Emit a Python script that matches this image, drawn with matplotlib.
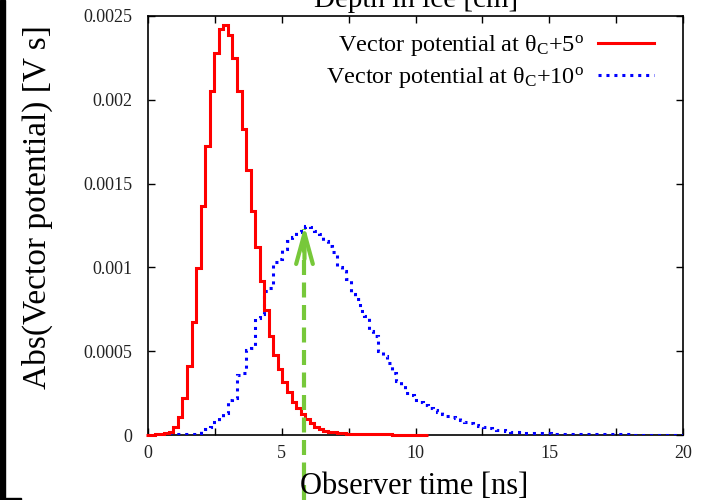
import numpy as np
import matplotlib
matplotlib.use("Agg")
from matplotlib import pyplot as plt
from matplotlib.ticker import MultipleLocator, FuncFormatter
from matplotlib.patches import Rectangle

plt.rcParams['font.family'] = ['Liberation Serif', 'DejaVu Serif']
plt.rcParams['mathtext.fontset'] = 'custom'
plt.rcParams['mathtext.rm'] = 'Liberation Serif'
plt.rcParams['mathtext.it'] = 'Liberation Serif:italic'

# histogram bins (ns)
bin_width = 0.17
first_edge = -0.073

# Abs(vector potential) [V s] per bin, theta_C + 5 deg
pot_5deg = [0.000001, 0.000002, 0.000004, 0.000006, 0.00001, 0.00002,
            0.00005, 0.00011, 0.000223, 0.000414, 0.000676, 0.000998, 0.001366, 0.001726, 0.002053, 0.002277,
            0.002423, 0.002446, 0.002387, 0.002248, 0.002053, 0.001826, 0.001581, 0.001337, 0.001124, 0.00092,
            0.000746, 0.000593, 0.000479, 0.000391, 0.000318, 0.000259, 0.000199, 0.000161, 0.000124, 0.000095,
            0.00007, 0.00005, 0.000036, 0.000026, 0.00002, 0.000016, 0.000013, 0.00001, 0.000008, 0.000006,
            0.000005, 0.000005, 0.000004, 0.000004, 0.000004, 0.000003, 0.000003, 0.000003,
            0.000002, 0.000002, 0.000002, 0.000002, 0.000001, 0.000001, 0.000001, 0.000001]

# theta_C + 10 deg
pot_10deg = [0.000001, 0.000001, 0.000002, 0.000002, 0.000003, 0.000003, 0.000004, 0.000004, 0.000005, 0.000006,
             0.000007, 0.000012, 0.000024, 0.000034, 0.00005, 0.00008, 0.00011, 0.00013, 0.00021, 0.00022,
             0.00036, 0.00037, 0.00051, 0.00052, 0.0007, 0.00072, 0.00086, 0.00088, 0.00103, 0.00105,
             0.00111, 0.00116, 0.00118, 0.00121, 0.00124, 0.00125, 0.00124, 0.00122, 0.0012, 0.00116,
             0.00113, 0.00109, 0.001, 0.00098, 0.00093, 0.00084, 0.00081, 0.00074, 0.00071, 0.00062,
             0.00059, 0.0005, 0.00047, 0.00043, 0.00037, 0.00032, 0.0003, 0.00025, 0.00024, 0.00021,
             0.000195, 0.000178, 0.00016, 0.000148, 0.000135, 0.000125, 0.000115, 0.000105, 0.0001, 0.00009,
             0.00008, 0.00007, 0.000062, 0.000056, 0.00005, 0.000044, 0.000038, 0.000032, 0.000028, 0.000024,
             0.00002, 0.000018, 0.000016, 0.000014, 0.000013, 0.000012, 0.00001, 0.00001, 0.000009, 0.000008,
             0.000008, 0.000007, 0.000007, 0.000006, 0.000006, 0.000005, 0.000005, 0.000005, 0.000004, 0.000004,
             0.000004, 0.000004, 0.000003, 0.000003, 0.000003, 0.000003, 0.000003, 0.000002, 0.000002, 0.000002,
             0.000002, 0.000002, 0.000002, 0.000001, 0.000001, 0.000001, 0.000001, 0.000001]

# peak marker (green arrow)
peak_time = 5.85
peak_value = 0.00125
arrow_start = -0.00039

edges_5 = first_edge + bin_width * np.arange(len(pot_5deg) + 1)
edges_10 = first_edge + bin_width * np.arange(len(pot_10deg) + 1)

fig = plt.figure(figsize=(7.03, 5.0), dpi=100)
ax = fig.add_axes([148/703, 65/500, 535/703, 419/500])

ax.stairs(pot_5deg, edges_5, color='#ff0000', lw=2.2, zorder=4, clip_on=False,
          label='Vector potential at θ$_{\\rm C}$+5$^{\\rm o}$')
ax.stairs(pot_10deg, edges_10, color='#0000ff', lw=2.2, linestyle=(0, (1, 1.6)), zorder=3,
          label='Vector potential at θ$_{\\rm C}$+10$^{\\rm o}$')

# dashed green arrow, runs below the axis
green = '#77c83a'
ax.plot([peak_time, peak_time], [arrow_start, peak_value - 0.00002], color=green, lw=3,
        linestyle=(0, (3.6, 1.8)), clip_on=False, zorder=5)
ax.annotate('', xy=(peak_time, peak_value), xytext=(peak_time, peak_value - 0.0002),
            arrowprops=dict(arrowstyle='->,head_length=1.1,head_width=0.3', color=green, lw=3,
                            mutation_scale=20, shrinkA=0, shrinkB=0), zorder=5)

ax.set_xlim(0, 20)
ax.set_ylim(0, 0.0025)
ax.xaxis.set_major_locator(MultipleLocator(5))
ax.xaxis.set_minor_locator(MultipleLocator(2.5))
ax.yaxis.set_major_locator(MultipleLocator(0.0005))
ax.yaxis.set_major_formatter(FuncFormatter(lambda v, p: '%g' % v))
ax.tick_params(which='both', direction='in', top=True, right=True, length=5, width=1,
               labelsize=13, labelcolor='#222222')
ax.tick_params(axis='x', pad=7)
ax.tick_params(axis='y', pad=11)
for s in ax.spines.values():
    s.set_linewidth(1.2)

ax.legend(loc='upper right', frameon=False, markerfirst=False, fontsize=17.5,
          handlelength=2.3, handletextpad=0.6, labelspacing=0.3,
          borderaxespad=0.3, bbox_to_anchor=(0.978, 1.0))

fig.text(414/703, 6/500, 'Observer time [ns]', ha='center', va='baseline', fontsize=22)
fig.text(37/703, 1 - 207/500, 'Abs(Vector potential) [V s]', ha='center', va='center',
         rotation=90, fontsize=24)
fig.text(416/703, 1 - 7/500, 'Depth in ice [cm]', ha='center', va='baseline', fontsize=21)

# black edge strip on the left
fig.patches.append(Rectangle((0, 0), 5/703, 1, transform=fig.transFigure, color='black'))
fig.patches.append(Rectangle((0, 0), 21/703, 2.5/500, transform=fig.transFigure, color='black'))

fig.savefig('out.png', dpi=100)
